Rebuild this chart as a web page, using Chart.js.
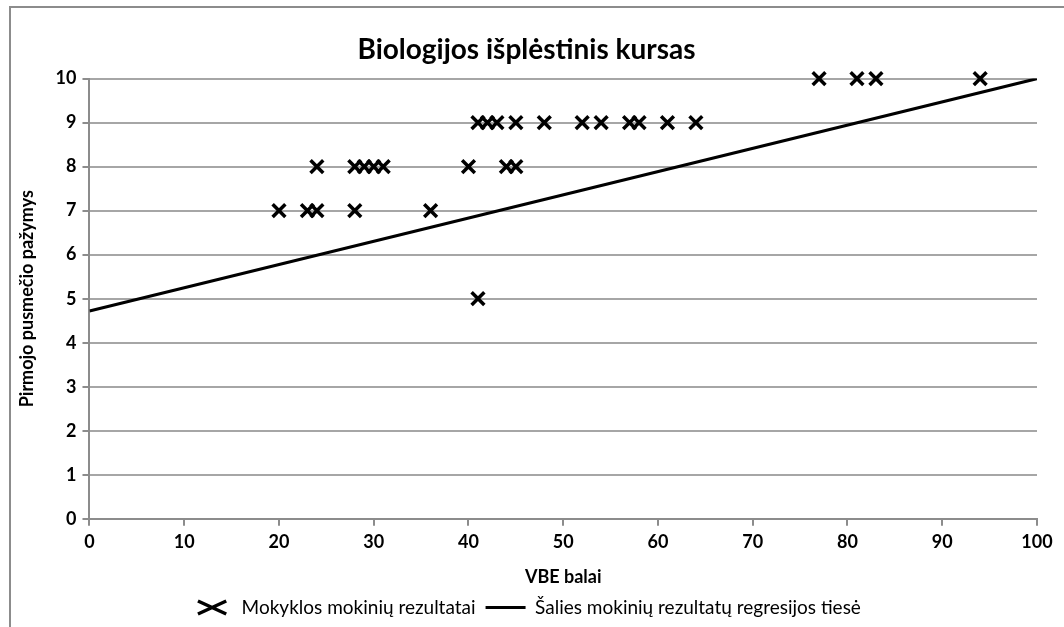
<!DOCTYPE html>
<html>
<head>
<meta charset="utf-8">
<script src="https://cdn.jsdelivr.net/npm/chart.js@4"></script>
<style>
  html, body { margin: 0; padding: 0; background: #fff; overflow: hidden; }
  #wrap { position: relative; width: 1064px; height: 627px; }
  #frame { position: absolute; left: 9px; top: 6px; width: 1100px; height: 700px;
           border-left: 2px solid #8c8c8c; border-top: 2px solid #8c8c8c; }
  canvas { position: absolute; left: 0; top: 0; }
</style>
</head>
<body>
<div id="wrap">
  <div id="frame"></div>
  <canvas id="chart" width="1064" height="627"></canvas>
</div>
<script>
// school students: VBE score vs first-semester grade
var vbeBalai = [20, 23, 24, 28, 36,
                24, 28, 29, 30, 31, 40, 44, 45,
                41, 42, 43, 45, 48, 52, 54, 57, 58, 61, 64,
                77, 81, 83, 94,
                41];
var pazymiai = [7, 7, 7, 7, 7,
                8, 8, 8, 8, 8, 8, 8, 8,
                9, 9, 9, 9, 9, 9, 9, 9, 9, 9, 9,
                10, 10, 10, 10,
                5];

// national regression line endpoints
var regrX = [0, 100];
var regrY = [4.72, 10];

var xTicks = [0, 10, 20, 30, 40, 50, 60, 70, 80, 90, 100];
var yTicks = [0, 1, 2, 3, 4, 5, 6, 7, 8, 9, 10];

var FONT = 'Lato, "Open Sans", sans-serif';

var scatterPts = vbeBalai.map(function(v, i) { return { x: v, y: pazymiai[i] }; });
var linePts = regrX.map(function(v, i) { return { x: v, y: regrY[i] }; });

new Chart(document.getElementById('chart').getContext('2d'), {
  type: 'scatter',
  data: {
    datasets: [
      {
        label: 'Mokyklos mokinių rezultatai',
        data: scatterPts,
        pointStyle: 'crossRot',
        pointRadius: 9,
        borderColor: '#000',
        backgroundColor: '#000',
        pointBorderWidth: 3.5,
        borderWidth: 3.5,
        clip: false
      },
      {
        type: 'line',
        label: 'Šalies mokinių rezultatų regresijos tiesė',
        data: linePts,
        borderColor: '#000',
        backgroundColor: '#000',
        borderWidth: 3,
        pointRadius: 0,
        pointStyle: 'line',
        fill: false
      }
    ]
  },
  options: {
    responsive: false,
    animation: false,
    layout: { padding: { left: 16, right: 27, top: 20, bottom: 0 } },
    plugins: {
      title: {
        display: true,
        text: 'Biologijos išplėstinis kursas',
        color: '#000',
        font: { family: FONT, size: 28, weight: 'bold' },
        padding: { top: 13, bottom: 12 }
      },
      legend: {
        position: 'bottom',
        labels: {
          color: '#000',
          font: { family: FONT, size: 19 },
          usePointStyle: true,
          pointStyleWidth: 40,
          boxHeight: 13,
          padding: 10
        }
      },
      tooltip: { enabled: false }
    },
    scales: {
      x: {
        type: 'linear',
        min: 0,
        max: 100,
        afterBuildTicks: function(axis) { axis.ticks = xTicks.map(function(v) { return { value: v }; }); },
        ticks: { color: '#000', font: { family: FONT, size: 18, weight: 'bold' }, padding: 6, maxRotation: 0 },
        grid: { color: 'transparent', tickColor: '#8c8c8c', drawTicks: true, tickLength: 7, lineWidth: 2 },
        border: { color: '#8c8c8c', width: 2 },
        title: {
          display: true,
          text: 'VBE balai',
          color: '#000',
          font: { family: FONT, size: 18, weight: 'bold' },
          padding: { top: 7, bottom: 0 }
        }
      },
      y: {
        min: 0,
        max: 10,
        afterBuildTicks: function(axis) { axis.ticks = yTicks.map(function(v) { return { value: v }; }); },
        ticks: { color: '#000', font: { family: FONT, size: 18, weight: 'bold' }, padding: 6 },
        grid: { color: '#a6a6a6', tickColor: '#8c8c8c', lineWidth: 2, tickLength: 7 },
        border: { color: '#8c8c8c', width: 2 },
        title: {
          display: true,
          text: 'Pirmojo pusmečio pažymys',
          color: '#000',
          font: { family: FONT, size: 18, weight: 'bold' },
          padding: { top: 0, bottom: 12 }
        }
      }
    }
  }
});
</script>
</body>
</html>
